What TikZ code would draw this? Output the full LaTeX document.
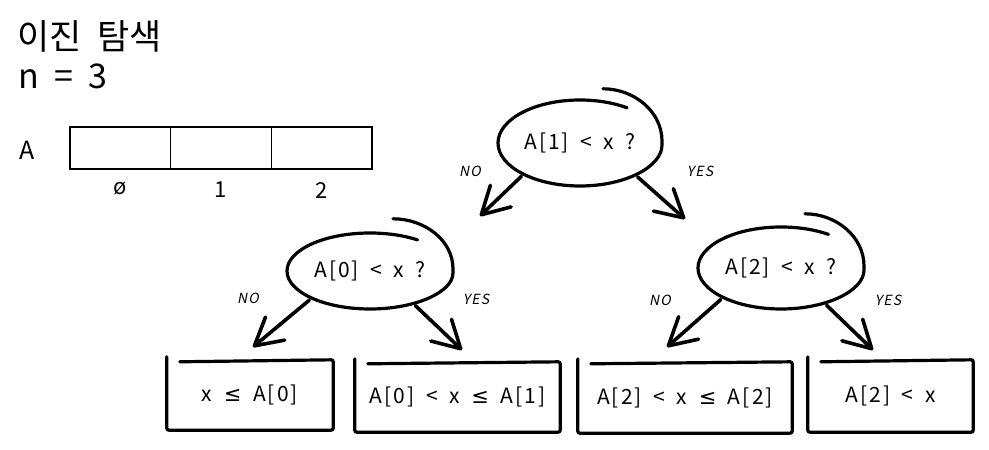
\documentclass[tikz,border=0pt]{standalone}
\usepackage{fontspec}
\setmainfont{Noto Sans CJK KR}
\newfontfamily\symfont{DejaVu Sans}
\newfontfamily\handfont[LetterSpace=10,WordSpace=1.7]{Noto Sans CJK KR}
\newfontfamily\wideheadfont[WordSpace=2]{Noto Sans CJK KR}
\newfontfamily\slfont[FakeSlant=0.2,LetterSpace=8]{Noto Sans CJK KR}
\newcommand{\lesym}{{\symfont ≤}}
\usetikzlibrary{shapes.geometric,arrows.meta}
\tikzstyle{question} = [ellipse, inner sep=0pt, font=\handfont\fontsize{21}{24}\selectfont]
\tikzstyle{result} = [rectangle, inner sep=0pt, font=\handfont\fontsize{21}{24}\selectfont]
\tikzstyle{branch} = [line width=3.6pt, line cap=round, -{Straight Barb[length=27pt,width=30pt,round]}, shorten <=3pt]
\tikzstyle{answer} = [font=\slfont\fontsize{14}{16}\selectfont]
\tikzstyle{sketch} = [line width=3.2pt, line cap=round, line join=round, rounded corners=2pt]
\tikzstyle{cell} = [rectangle, draw=black, line width=1.2pt, minimum width=100.67pt, minimum height=42pt, inner sep=0pt]

\begin{document}
\begin{tikzpicture}[x=1pt,y=1pt]
\useasboundingbox (0,0) rectangle (989,450);
% title
\node[anchor=base west, inner sep=0pt, font=\wideheadfont\fontsize{35}{38}\selectfont] (title) at (17,400) {이진 탐색};
\node[anchor=base west, inner sep=0pt, font=\wideheadfont\fontsize{34}{38}\selectfont] (size) at (18,361) {n = 3};
% array
\node[font=\fontsize{25}{28}\selectfont] (arr) at (27,300) {A};
\foreach \i/\lbl in {0/ø,1/1,2/2} {
  \node[cell] (cell\i) at (120.33+\i*100.67,302) {};
  \node[anchor=north, yshift=-9pt, font=\fontsize{22}{26}\selectfont] (idx\i) at (cell\i.south) {\lbl};
}
% questions
\node[question, minimum width=164pt, minimum height=86pt] (q1) at (580,307) {A[1] < x ?};
\node[question, minimum width=166pt, minimum height=76pt] (q0) at (370,179) {A[0] < x ?};
\node[question, minimum width=166pt, minimum height=82pt] (q2) at (781,182) {A[2] < x ?};
\draw[sketch] ([shift={(23pt,11pt)}]q1.north) to[out=0, in=90] ([xshift=82pt]q1.center)
  arc[start angle=0, end angle=-305, x radius=82pt, y radius=43pt];
\draw[sketch] ([shift={(23pt,14pt)}]q0.north) to[out=0, in=90] ([xshift=83pt]q0.center)
  arc[start angle=0, end angle=-305, x radius=83pt, y radius=38pt];
\draw[sketch] ([shift={(24pt,13pt)}]q2.north) to[out=0, in=90] ([xshift=83pt]q2.center)
  arc[start angle=0, end angle=-305, x radius=83pt, y radius=41pt];
% results
\node[result, minimum width=166pt, minimum height=70pt] (r0) at (250,55) {x \lesym{} A[0]};
\node[result, minimum width=205pt, minimum height=70pt] (r1) at (457.5,53) {A[0] < x \lesym{} A[1]};
\node[result, minimum width=214pt, minimum height=71pt] (r2) at (685,52.5) {A[2] < x \lesym{} A[2]};
\node[result, minimum width=165pt, minimum height=72pt] (r3) at (890.5,54) {A[2] < x};
\foreach \r in {r0,r1,r2,r3}
  \draw[sketch] ([shift={(13pt,-2pt)}]\r.north west) -- (\r.north east) -- (\r.south east)
    -- (\r.south west) -- ([yshift=3pt]\r.north west);
% branches
\coordinate (t1no) at (480,234);
\coordinate (t1yes) at (685,231);
\coordinate (t0no) at (253,103);
\coordinate (t0yes) at (462,100);
\coordinate (t2no) at (667,103);
\coordinate (t2yes) at (873,100);
\draw[branch] (q1.209) -- (t1no);
\draw[branch] (q1.330) -- (t1yes);
\draw[branch] (q0.205) -- (t0no);
\draw[branch] (q0.323) -- (t0yes);
\draw[branch] (q2.207) -- (t2no);
\draw[branch] (q2.321) -- (t2yes);
\node[answer] (no1) at (470,279) {NO};
\node[answer] (yes1) at (700,279) {YES};
\node[answer] (no0) at (248,152) {NO};
\node[answer] (yes0) at (476,151) {YES};
\node[answer] (no2) at (660,150) {NO};
\node[answer] (yes2) at (888,150) {YES};
\end{tikzpicture}
\end{document}
